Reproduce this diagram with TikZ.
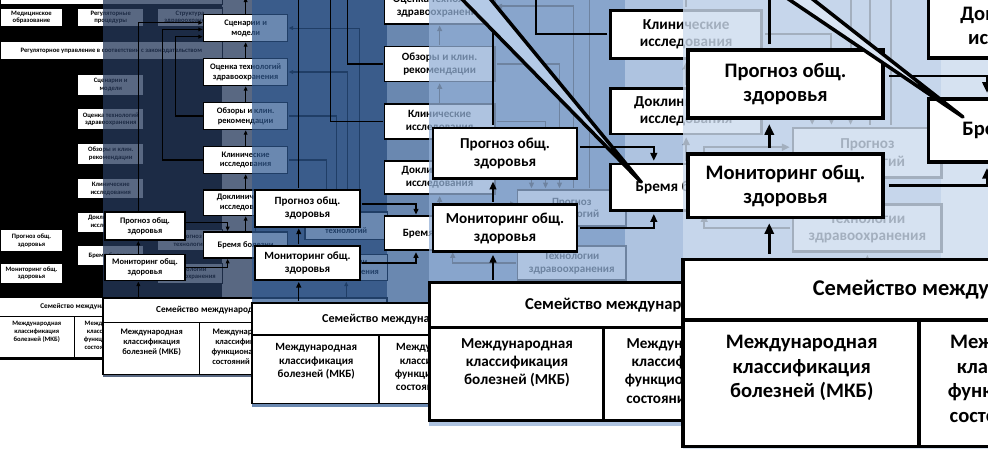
\documentclass[tikz,border=0pt]{standalone}
\usepackage{fontspec}
\setmainfont{Carlito}
\usetikzlibrary{arrows.meta,positioning}

\definecolor{bgtwo}{RGB}{38,57,91}
\definecolor{bgthree}{RGB}{46,88,144}
\definecolor{bgfour}{RGB}{147,176,214}
\definecolor{bgfive}{RGB}{204,219,238}
\definecolor{wedge}{RGB}{180,202,231}

\def\bw{1pt}\def\lw{0.7pt}\def\al{3pt}\def\aw{3pt}\def\pp{p}

\tikzset{
  blk/.style={draw, fill=white, rectangle, line width=\bw, inner sep=0pt, align=center, font=\bfseries\fontsize{5.4}{6.3}\selectfont},
  txt/.style={inner sep=0pt, align=center, font=\bfseries\fontsize{5.4}{6.5}\selectfont},
  arr/.style={-{Triangle[length=\al, width=\aw]}, line width=\lw},
}

% box from corner (x1,y1) to corner (x2,y2), local units
\newcommand{\bx}[6]{%
  \node[blk, minimum width={((#4)-(#2))*0.03cm}, minimum height={((#5)-(#3))*0.03cm}]
    (\pp#1) at ({((#2)+(#4))/2},{((#3)+(#5))/2}) {#6};}

% one zoom step of the diagram: prefix, scale, x, y, tint, opacity
\newcommand{\panel}[6]{%
  \begin{scope}[shift={(#3,#4)}, scale=#2, transform shape]
    \def\pp{#1}
    \pgfmathsetlengthmacro\bw{0.95pt*#2}
    \pgfmathsetlengthmacro\lw{0.7pt*#2}
    \pgfmathsetlengthmacro\al{2.8pt*#2}
    \pgfmathsetlengthmacro\aw{2.4pt*#2}
    % tinted backdrop
    \fill[#5, fill opacity=#6] (-1.5,-262) rectangle (211.5,124);
    % top rows
    \bx{T0}{0}{-250}{212}{-214}{}
    \bx{T1}{0}{-211}{60}{-193}{Медицинское\\образование}
    \bx{T2}{74}{-211}{137}{-193}{Регуляторные\\процедуры}
    \bx{T3}{150}{-211}{212}{-193}{Структура\\здравоохранения}
    \bx{T4}{0}{-179.5}{212}{-161.5}{Регуляторное управление в соответствии с законодательством}
    % middle column
    \bx{C1}{74}{-148}{137}{-128}{Сценарии и\\модели}
    \bx{C2}{74}{-115}{137}{-95}{Оценка технологий\\здравоохранения}
    \bx{C3}{74}{-82}{137}{-62}{Обзоры и клин.\\рекомендации}
    \bx{C4}{74}{-49}{137}{-29}{Клинические\\исследования}
    \bx{C5}{74}{-16.5}{137}{2.5}{Доклинические\\исследования}
    \bx{C6}{74}{15}{137}{34.5}{Бремя болезни}
    % side columns
    \bx{L1}{0}{0}{60}{21}{Прогноз общ.\\здоровья}
    \bx{L2}{0}{32}{60}{51.5}{Мониторинг общ.\\здоровья}
    \bx{R1}{150}{0}{212}{20.5}{Прогноз\\технологий}
    \bx{R2}{150}{32}{212}{51.5}{Технологии\\здравоохранения}
    % classifications
    \bx{B0}{-1.5}{64.5}{211.5}{83}{\fontsize{5.9}{6.5}\selectfont Семейство международных классификаций}
    \bx{B1}{-1.5}{83}{71}{122}{}
    \bx{B2}{71}{83}{137}{122}{}
    \node[txt, anchor=north] (\pp B1t) at (35,87.5) {Международная\\классификация\\болезней (МКБ)};
    \node[txt, anchor=north] (\pp B2t) at (104,87.5) {Международная\\классификация\\функциональных\\состояний (МКФ)};
    % column arrows
    \draw[arr] (\pp C2.north) -- (\pp C1.south);
    \draw[arr] (\pp C3.north) -- (\pp C2.south);
    \draw[arr] (\pp C4.north) -- (\pp C3.south);
    \draw[arr] (\pp C5.north) -- (\pp C4.south);
    \draw[arr] (\pp C6.north) -- (\pp C5.south);
    \draw[arr] (\pp C1.north) -- (\pp C1.north |- \pp T4.south);
    \draw[arr] (\pp L2.north -| 25,0) -- (\pp L1.south -| 25,0);
    \draw[arr] (\pp B0.north -| 25,0) -- (\pp L2.south -| 25,0);
    \draw[arr] (\pp B0.north -| 181,0) -- (\pp R2.south -| 181,0);
    % feeds into scenarios
    \draw[arr] (\pp L1.north -| 25,0) |- (\pp C1.west |- 0,-142);
    \draw[arr] (\pp C4.west) -| (43,-137) -- (\pp C1.west |- 0,-137);
    \draw[arr] (\pp C3.west) -| (53,-131.5) -- (\pp C1.west |- 0,-131.5);
    % burden of disease
    \draw[arr] (\pp L1.east |- 0,8) -| (\pp C6.north -| 92,0);
    \draw[arr] (\pp L2.east) -| (\pp C6.south -| 92,0);
    \draw[arr] (\pp C6.north -| 113,0) |- (\pp R1.west |- 0,8);
    \draw[arr] (\pp R2.west) -| (\pp C6.south -| 113,0);
    % technology forecast
    \draw[arr] (\pp R1.north -| 191,0) |- (\pp C1.east |- 0,-138);
    \draw[arr] (\pp R1.north -| 182,0) |- (\pp C2.east);
    \draw[arr] (\pp C3.east) -| (\pp R1.north -| 174,0);
    \draw[arr] (\pp C4.east) -| (\pp R1.north -| 166,0);
    \draw[arr] (\pp C5.east) -| (\pp R1.north -| 158,0);
  \end{scope}}

\begin{document}
\begin{tikzpicture}[x=0.03cm, y=-0.03cm]
\useasboundingbox (0,0) rectangle (988,448);
\clip (0,0) rectangle (988,448);
\fill[white] (0,0) rectangle (988,448);

% zoom steps, smallest first
\panel{p1}{1.05}{0}{229.5}{black}{1}
\panel{p2}{1.333}{105}{212}{bgtwo}{0.76}
\panel{p3}{1.75}{255}{190}{bgthree}{0.71}
\panel{p4}{2.4}{433}{128}{bgfour}{0.75}
\panel{p5}{3.25}{688}{50}{bgfive}{0.8}

% pointer wedges
\filldraw[fill=wedge, line width=3pt, line join=round] (453,-10) -- (641,182) -- (483,-10) -- cycle;
\filldraw[fill=wedge!50!white, line width=3pt, line join=round] (775,-10) -- (963,117) -- (801,-10) -- cycle;

\end{tikzpicture}
\end{document}
